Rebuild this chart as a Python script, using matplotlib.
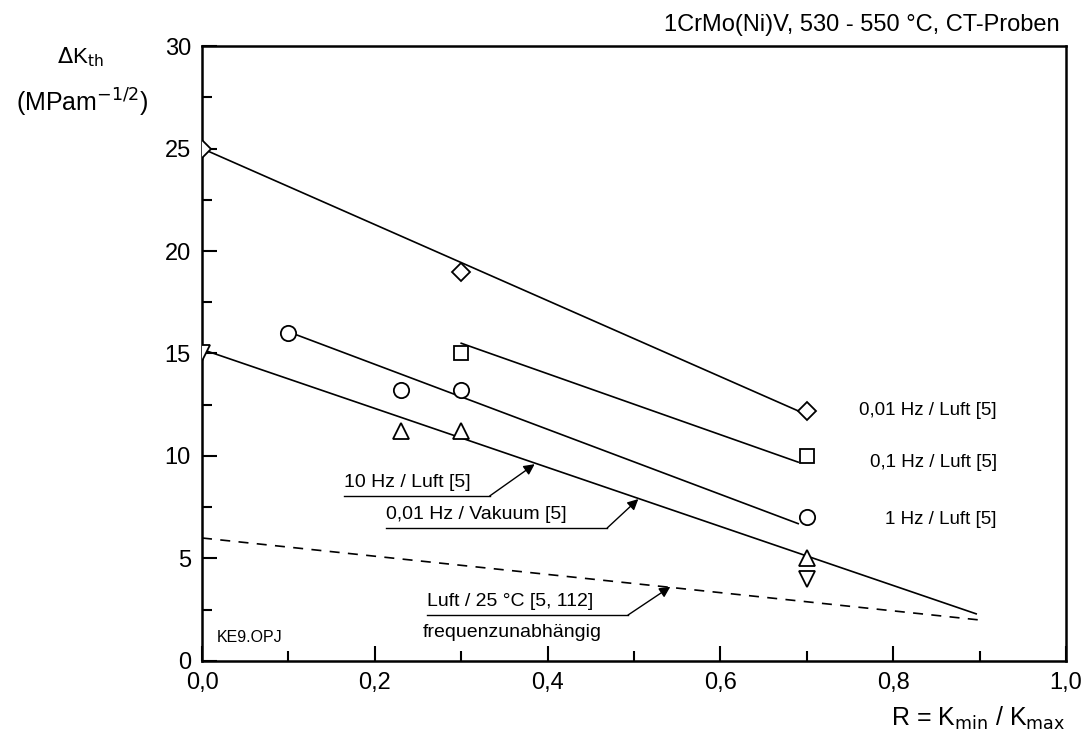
import matplotlib.pyplot as plt
from matplotlib.ticker import MultipleLocator, FuncFormatter

plt.rcParams['font.family'] = ['Liberation Sans', 'DejaVu Sans']

# data
r_dia = [0.0, 0.3, 0.7]
k_dia = [25.0, 19.0, 12.2]
r_sq = [0.3, 0.7]
k_sq = [15.0, 10.0]
r_circ = [0.1, 0.23, 0.3, 0.7]
k_circ = [16.0, 13.2, 13.2, 7.0]
r_tri = [0.23, 0.3, 0.7]
k_tri = [11.2, 11.2, 5.0]
r_tdown = [0.0, 0.7]
k_tdown = [15.0, 4.0]

# fitted lines (start, end)
line_dia = ([0.0, 0.69], [25.0, 12.2])
line_sq = ([0.3, 0.69], [15.5, 9.7])
line_circ = ([0.11, 0.69], [15.9, 6.7])
line_tri = ([0.0, 0.896], [15.2, 2.3])
line_room = ([0.0, 0.9], [6.0, 2.0])

fig = plt.figure(figsize=(10.85, 7.35), dpi=100)
ax = fig.add_axes([0.1862, 0.1007, 0.7963, 0.8367])

lw = 1.2
ax.plot(*line_dia, color='black', lw=lw)
ax.plot(*line_sq, color='black', lw=lw)
ax.plot(*line_circ, color='black', lw=lw)
ax.plot(*line_tri, color='black', lw=lw)
ax.plot(*line_room, color='black', lw=lw, ls=(0, (6, 5)))

mk = dict(ls='none', mfc='white', mec='black', mew=1.3, zorder=3)
ax.plot(r_dia, k_dia, marker='D', ms=9, **mk)
ax.plot(r_sq, k_sq, marker='s', ms=10, **mk)
ax.plot(r_circ, k_circ, marker='o', ms=11, **mk)
ax.plot(r_tri, k_tri, marker='^', ms=12, **mk)
ax.plot(r_tdown, k_tdown, marker='v', ms=12, **mk)

ax.set_xlim(0, 1.0)
ax.set_ylim(0, 30)
ax.xaxis.set_major_locator(MultipleLocator(0.2))
ax.xaxis.set_minor_locator(MultipleLocator(0.1))
ax.yaxis.set_major_locator(MultipleLocator(5))
ax.yaxis.set_minor_locator(MultipleLocator(2.5))
ax.xaxis.set_major_formatter(FuncFormatter(lambda v, p: f'{v:.1f}'.replace('.', ',')))
ax.tick_params(which='major', direction='in', length=11, width=1.5, labelsize=17, pad=8)
ax.tick_params(which='minor', direction='in', length=7, width=1.5)
for s in ax.spines.values():
    s.set_linewidth(1.8)

# labels on the right
ax.text(0.92, 12.2, '0,01 Hz / Luft [5]', ha='right', va='center', fontsize=13.5)
ax.text(0.92, 9.7, '0,1 Hz / Luft [5]', ha='right', va='center', fontsize=13.5)
ax.text(0.92, 6.9, '1 Hz / Luft [5]', ha='right', va='center', fontsize=13.5)

# annotations with underline and arrow
def callout(text, x0, x1, y, tip):
    ax.text(x0, y + 0.25, text, ha='left', va='bottom', fontsize=14)
    ax.plot([x0, x1], [y, y], color='black', lw=1)
    ax.annotate('', xy=tip, xytext=(x1, y),
                arrowprops=dict(arrowstyle='-|>', color='black', lw=1,
                                mutation_scale=16, shrinkA=0, shrinkB=0))

callout('10 Hz / Luft [5]', 0.164, 0.333, 8.05, (0.385, 9.6))
callout('0,01 Hz / Vakuum [5]', 0.213, 0.469, 6.49, (0.505, 7.9))
callout('Luft / 25 °C [5, 112]', 0.26, 0.493, 2.24, (0.542, 3.62))
ax.text(0.256, 1.4, 'frequenzunabhängig', ha='left', va='center', fontsize=14)

ax.text(0.017, 1.17, 'KE9.OPJ', ha='left', va='center', fontsize=11.5)

fig.text(0.977, 0.966, '1CrMo(Ni)V, 530 - 550 °C, CT-Proben', ha='right', va='center', fontsize=17)
fig.text(0.074, 0.922, r'$\Delta$K$_{\mathrm{th}}$', ha='center', va='center', fontsize=16)
fig.text(0.076, 0.86, r'(MPam$^{\mathrm{-1/2}}$)', ha='center', va='center', fontsize=18)
fig.text(0.982, 0.023, r'R = K$_{\mathrm{min}}$ / K$_{\mathrm{max}}$', ha='right', va='center', fontsize=18)

fig.savefig('out.png', dpi=100)
